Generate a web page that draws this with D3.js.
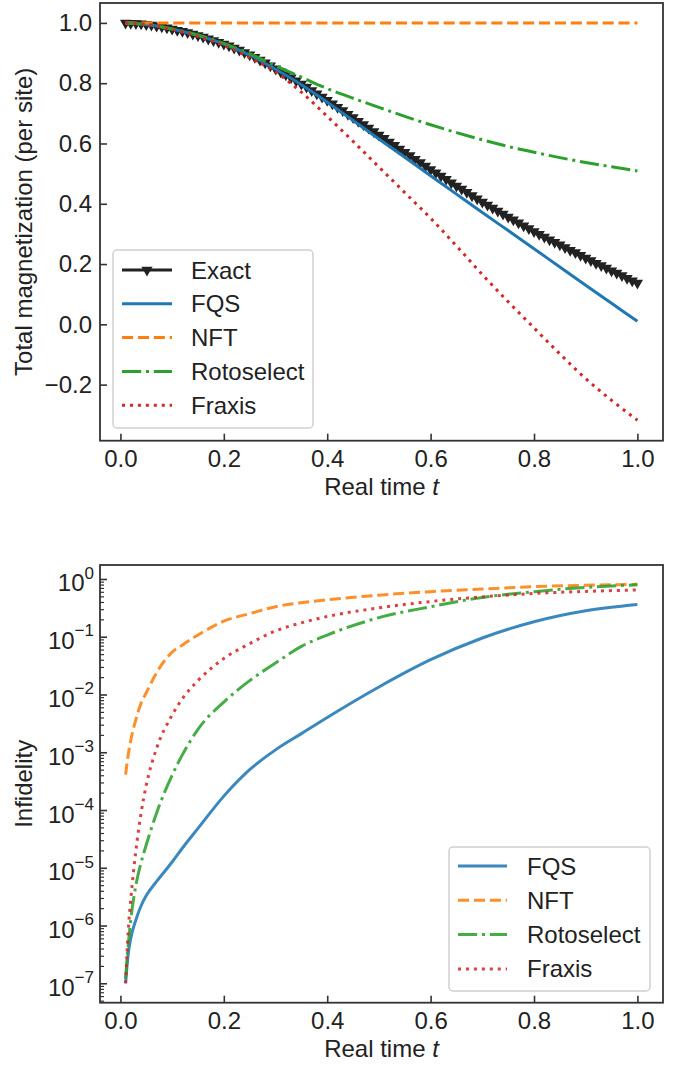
<!DOCTYPE html>
<html>
<head>
<meta charset="utf-8">
<script src="https://cdn.jsdelivr.net/npm/d3@7"></script>
<style>
  body { margin: 0; background: #fff; }
  text { font-family: "Liberation Sans", Arial, sans-serif; fill: #222; }
</style>
</head>
<body>
<div id="container"></div>
<script>
/* CONSTANTS AND GLOBALS */
const width = 685,
  height = 1066,
  frame = {left: 100, right: 663},
  topBox = {top: 3, bottom: 440.7},
  botBox = {top: 565, bottom: 1002.7},
  fontSize = 24;

/* DATA */
// top panel: total magnetization per site
const tExact = d3.range(1, 101).map(i => +(i / 100).toFixed(2));
const exactMag = [
  1.000, 0.999, 0.998, 0.997, 0.995, 0.993, 0.990, 0.987, 0.984, 0.980,
  0.976, 0.972, 0.968, 0.963, 0.958, 0.953, 0.947, 0.942, 0.936, 0.930,
  0.924, 0.917, 0.910, 0.902, 0.894, 0.886, 0.877, 0.868, 0.858, 0.848,
  0.838, 0.828, 0.818, 0.808, 0.797, 0.787, 0.776, 0.765, 0.754, 0.743,
  0.732, 0.720, 0.709, 0.697, 0.686, 0.674, 0.663, 0.651, 0.640, 0.628,
  0.617, 0.605, 0.594, 0.582, 0.571, 0.560, 0.548, 0.537, 0.525, 0.514,
  0.503, 0.492, 0.481, 0.470, 0.459, 0.449, 0.438, 0.427, 0.417, 0.406,
  0.396, 0.386, 0.376, 0.366, 0.356, 0.347, 0.337, 0.327, 0.318, 0.308,
  0.299, 0.290, 0.281, 0.272, 0.264, 0.255, 0.246, 0.238, 0.229, 0.220,
  0.212, 0.203, 0.195, 0.187, 0.178, 0.170, 0.162, 0.153, 0.145, 0.137
];
const tTop = [0.01, 0.05, 0.1, 0.15, 0.2, 0.25, 0.3, 0.35, 0.4, 0.45, 0.5,
  0.55, 0.6, 0.65, 0.7, 0.75, 0.8, 0.85, 0.9, 0.95, 1.0];
const fqsMag = [1.0, 0.995, 0.98, 0.958, 0.93, 0.893, 0.846, 0.795, 0.737, 0.676, 0.615,
  0.554, 0.493, 0.432, 0.371, 0.311, 0.251, 0.19, 0.13, 0.07, 0.01];
const nftMag = [1.0, 1.0, 1.0, 1.0, 1.0, 1.0, 1.0, 1.0, 1.0, 1.0, 1.0,
  1.0, 1.0, 1.0, 1.0, 1.0, 1.0, 1.0, 1.0, 1.0, 1.0];
const rotoMag = [1.0, 0.995, 0.98, 0.96, 0.932, 0.898, 0.858, 0.82, 0.782, 0.75, 0.72,
  0.69, 0.662, 0.636, 0.612, 0.59, 0.571, 0.553, 0.537, 0.523, 0.509];
const fraxisMag = [1.0, 0.995, 0.978, 0.955, 0.925, 0.885, 0.837, 0.77, 0.69, 0.607, 0.522,
  0.437, 0.352, 0.26, 0.165, 0.075, -0.012, -0.098, -0.18, -0.252, -0.318];

// bottom panel: infidelity (log scale)
const tBot = [0.01, 0.015, 0.02, 0.03, 0.04, 0.05, 0.07, 0.1, 0.12, 0.15, 0.2,
  0.25, 0.3, 0.35, 0.4, 0.5, 0.6, 0.7, 0.8, 0.9, 1.0];
const fqsInf = [1.0e-7, 3.2e-7, 6.0e-7, 1.26e-6, 2.2e-6, 3.3e-6, 5.8e-6, 1.26e-5, 2.2e-5, 4.8e-5, 1.74e-4,
  5.0e-4, 1.1e-3, 2.1e-3, 4.0e-3, 1.35e-2, 4.0e-2, 9.5e-2, 0.182, 0.282, 0.363];
const nftInf = [4.1e-4, 8.9e-4, 1.6e-3, 3.7e-3, 7.1e-3, 1.07e-2, 2.4e-2, 5.4e-2, 7.2e-2, 0.107, 0.186,
  0.251, 0.331, 0.389, 0.436, 0.525, 0.603, 0.668, 0.736, 0.78, 0.809];
const rotoInf = [1.2e-7, 4.5e-7, 1.26e-6, 5.0e-6, 1.23e-5, 2.5e-5, 8.9e-5, 4.0e-4, 9.1e-4, 2.5e-3, 7.4e-3,
  1.74e-2, 3.5e-2, 6.8e-2, 0.107, 0.214, 0.331, 0.479, 0.603, 0.716, 0.794];
const fraxisInf = [1.0e-7, 7.9e-7, 2.8e-6, 2.0e-5, 8.9e-5, 2.7e-4, 1.17e-3, 4.4e-3, 8.5e-3, 1.74e-2, 4.2e-2,
  7.6e-2, 0.126, 0.174, 0.224, 0.316, 0.407, 0.49, 0.562, 0.61, 0.646];

// ticks
const xTicks = [0, 0.2, 0.4, 0.6, 0.8, 1.0];
const magTicks = [-0.2, 0, 0.2, 0.4, 0.6, 0.8, 1.0];
const infExponents = [-7, -6, -5, -4, -3, -2, -1, 0];

// series styles
const lw = 3;
const styles = {
  FQS: {color: "#1f77b4", dash: null},
  NFT: {color: "#ff7f0e", dash: [3.7 * lw, 1.6 * lw]},
  Rotoselect: {color: "#2ca02c", dash: [6.4 * lw, 1.6 * lw, 1 * lw, 1.6 * lw]},
  Fraxis: {color: "#d62728", dash: [1 * lw, 1.65 * lw]}
};

let svg;

/* SCALES */
const xScale = d3.scaleLinear().domain([-0.0395, 1.0495]).range([frame.left, frame.right]);
const yMag = d3.scaleLinear().domain([-0.386, 1.066]).range([topBox.bottom, topBox.top]);
const yInf = d3.scaleLog().domain([Math.pow(10, -7.336), Math.pow(10, 0.242)])
  .range([botBox.bottom, botBox.top]);

init();

function init() {
  svg = d3.select("#container").append("svg")
    .attr("width", width)
    .attr("height", height);

  drawTop();
  drawBottom();
}

function styleAxis(g) {
  g.select(".domain").remove();
  g.selectAll(".tick line").attr("stroke", "#333").attr("stroke-width", 1.6);
  g.selectAll(".tick text").attr("font-size", fontSize).attr("fill", "#222")
    .attr("font-family", '"Liberation Sans", Arial, sans-serif');
}

function drawFrame(box) {
  svg.append("rect")
    .attr("x", frame.left)
    .attr("y", box.top)
    .attr("width", frame.right - frame.left)
    .attr("height", box.bottom - box.top)
    .attr("fill", "none")
    .attr("stroke", "#333")
    .attr("stroke-width", 1.8);
}

function drawXLabel(y) {
  const t = svg.append("text")
    .attr("x", (frame.left + frame.right) / 2)
    .attr("y", y)
    .attr("text-anchor", "middle")
    .attr("font-size", fontSize)
    .text("Real time ");
  t.append("tspan").attr("font-style", "italic").text("t");
}

function drawYLabel(label, box) {
  svg.append("text")
    .attr("transform", `translate(32, ${(box.top + box.bottom) / 2}) rotate(-90)`)
    .attr("text-anchor", "middle")
    .attr("font-size", fontSize)
    .text(label);
}

function addLine(yScale, xs, ys, style, opacity) {
  const line = d3.line()
    .x((d, i) => xScale(xs[i]))
    .y(d => yScale(d))
    .curve(d3.curveMonotoneX);
  svg.append("path")
    .datum(ys)
    .attr("d", line)
    .attr("fill", "none")
    .attr("stroke", style.color)
    .attr("stroke-width", lw)
    .attr("stroke-opacity", opacity)
    .attr("stroke-dasharray", style.dash ? style.dash.join(",") : null);
}

function drawLegend(box, items, handleX, textX, rowY, rowGap) {
  const g = svg.append("g");
  g.append("rect")
    .attr("x", box.x).attr("y", box.y)
    .attr("width", box.w).attr("height", box.h)
    .attr("rx", 4)
    .attr("fill", "#fff").attr("fill-opacity", 0.8)
    .attr("stroke", "#d0d0d0").attr("stroke-width", 1.5);

  items.forEach((it, i) => {
    const cy = rowY + i * rowGap;
    g.append("line")
      .attr("x1", handleX[0]).attr("x2", handleX[1])
      .attr("y1", cy).attr("y2", cy)
      .attr("stroke", it.color)
      .attr("stroke-width", lw)
      .attr("stroke-opacity", it.opacity || 1)
      .attr("stroke-dasharray", it.dash ? it.dash.join(",") : null);
    if (it.marker) {
      g.append("path")
        .attr("d", d3.symbol(d3.symbolTriangle, 55)())
        .attr("transform", `translate(${(handleX[0] + handleX[1]) / 2}, ${cy}) rotate(180)`)
        .attr("fill", it.color);
    }
    g.append("text")
      .attr("x", textX)
      .attr("y", cy + 8.5)
      .attr("font-size", fontSize)
      .text(it.label);
  });
}

/* TOP PANEL */
function drawTop() {
  const xAxis = d3.axisBottom(xScale)
    .tickValues(xTicks)
    .tickFormat(d3.format(".1f"))
    .tickSizeInner(-7).tickSizeOuter(0).tickPadding(9);
  svg.append("g")
    .attr("transform", `translate(0, ${topBox.bottom})`)
    .call(xAxis).call(styleAxis);

  const yAxis = d3.axisLeft(yMag)
    .tickValues(magTicks)
    .tickFormat(d3.format(".1f"))
    .tickSizeInner(-7).tickSizeOuter(0).tickPadding(8);
  svg.append("g")
    .attr("transform", `translate(${frame.left}, 0)`)
    .call(yAxis).call(styleAxis);

  // exact curve with triangle-down markers
  const exactLine = d3.line()
    .x((d, i) => xScale(tExact[i]))
    .y(d => yMag(d));
  svg.append("path")
    .datum(exactMag)
    .attr("d", exactLine)
    .attr("fill", "none")
    .attr("stroke", "#222")
    .attr("stroke-width", lw);
  svg.append("g")
    .selectAll("path")
    .data(exactMag)
    .join("path")
    .attr("d", d3.symbol(d3.symbolTriangle, 55)())
    .attr("transform", (d, i) => `translate(${xScale(tExact[i])}, ${yMag(d)}) rotate(180)`)
    .attr("fill", "#222");

  addLine(yMag, tTop, fqsMag, styles.FQS, 1);
  addLine(yMag, tTop, nftMag, styles.NFT, 1);
  addLine(yMag, tTop, rotoMag, styles.Rotoselect, 1);
  addLine(yMag, tTop, fraxisMag, styles.Fraxis, 1);

  drawFrame(topBox);
  drawXLabel(495);
  drawYLabel("Total magnetization (per site)", topBox);

  drawLegend({x: 113, y: 250, w: 200, h: 178}, [
    {label: "Exact", color: "#222", marker: true},
    {label: "FQS", ...styles.FQS},
    {label: "NFT", ...styles.NFT},
    {label: "Rotoselect", ...styles.Rotoselect},
    {label: "Fraxis", ...styles.Fraxis}
  ], [122, 172], 191, 270, 33.8);
}

/* BOTTOM PANEL */
function drawBottom() {
  const xAxis = d3.axisBottom(xScale)
    .tickValues(xTicks)
    .tickFormat(d3.format(".1f"))
    .tickSizeInner(-7).tickSizeOuter(0).tickPadding(9);
  svg.append("g")
    .attr("transform", `translate(0, ${botBox.bottom})`)
    .call(xAxis).call(styleAxis);

  // minor log ticks
  const minor = [];
  for (let e = -8; e <= 0; e++) {
    for (let k = 2; k <= 9; k++) {
      const v = k * Math.pow(10, e);
      if (v >= yInf.domain()[0] && v <= yInf.domain()[1]) minor.push(v);
    }
  }
  const minorAxis = d3.axisLeft(yInf)
    .tickValues(minor)
    .tickFormat("")
    .tickSizeInner(-4).tickSizeOuter(0);
  svg.append("g")
    .attr("transform", `translate(${frame.left}, 0)`)
    .call(minorAxis).call(styleAxis)
    .selectAll(".tick line").attr("stroke-width", 1.2);

  const yAxis = d3.axisLeft(yInf)
    .tickValues(infExponents.map(e => Math.pow(10, e)))
    .tickFormat("")
    .tickSizeInner(-7).tickSizeOuter(0).tickPadding(6);
  const yG = svg.append("g")
    .attr("transform", `translate(${frame.left}, 0)`)
    .call(yAxis).call(styleAxis);

  yG.selectAll(".tick text").attr("dy", "0.5em").each(function(d) {
    const e = Math.round(Math.log10(d));
    const t = d3.select(this);
    t.append("tspan").text("10");
    t.append("tspan")
      .attr("font-size", 17)
      .attr("dy", "-0.75em")
      .text(e < 0 ? "\u2212" + (-e) : String(e));
  });

  addLine(yInf, tBot, fqsInf, styles.FQS, 0.88);
  addLine(yInf, tBot, nftInf, styles.NFT, 0.88);
  addLine(yInf, tBot, rotoInf, styles.Rotoselect, 0.88);
  addLine(yInf, tBot, fraxisInf, styles.Fraxis, 0.88);

  drawFrame(botBox);
  drawXLabel(1057);
  drawYLabel("Infidelity", botBox);

  drawLegend({x: 449, y: 847, w: 201, h: 144}, [
    {label: "FQS", ...styles.FQS, opacity: 0.88},
    {label: "NFT", ...styles.NFT, opacity: 0.88},
    {label: "Rotoselect", ...styles.Rotoselect, opacity: 0.88},
    {label: "Fraxis", ...styles.Fraxis, opacity: 0.88}
  ], [458, 507], 527, 866, 34.3);
}
</script>
</body>
</html>
